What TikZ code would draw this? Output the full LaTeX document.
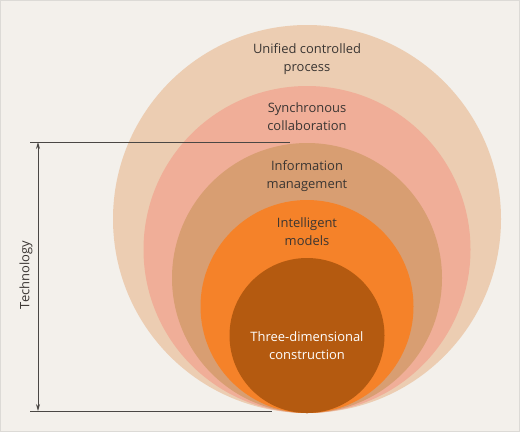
\documentclass[tikz,border=0pt]{standalone}
\usepackage{fontspec}
\setmainfont{Open Sans}
\usetikzlibrary{arrows.meta}
\newlength{\du}
\setlength{\du}{1bp}
\definecolor{bgcolor}{HTML}{F3F0EB}
\definecolor{edgecolor}{HTML}{DCDAD6}
\definecolor{unifiedcolor}{HTML}{ECCDB2}
\definecolor{synccolor}{HTML}{F0AE98}
\definecolor{infocolor}{HTML}{D89E72}
\definecolor{modelcolor}{HTML}{F58229}
\definecolor{constrcolor}{HTML}{B45A10}
\definecolor{textcolor}{HTML}{3A3532}
\definecolor{dimcolor}{HTML}{4A4744}
\tikzset{
  ring/.style={circle, inner sep=0pt, draw=none},
  ringlabel/.style={align=center, text=textcolor, font=\fontsize{13}{18}\selectfont, inner sep=0pt},
  dimline/.style={draw=dimcolor, line width=0.8\du},
  dimtip/.tip={Stealth[length=7bp,width=4bp]},
}
\begin{document}
\begin{tikzpicture}[x=1\du, y=-1\du]
\useasboundingbox (0,0) rectangle (520,432);
\fill[bgcolor] (0,0) rectangle (520,432);
\draw[edgecolor, line width=1\du] (0.5,0.5) rectangle (519.5,431.5);
% nested circles, all touching at the bottom
\node[ring, fill=unifiedcolor, minimum size=388\du] (unified) at (307,219) {};
\node[ring, fill=synccolor, minimum size=327\du] (sync) at (307,249.5) {};
\node[ring, fill=infocolor, minimum size=270\du] (info) at (307,278) {};
\node[ring, fill=modelcolor, minimum size=213\du] (models) at (307,306.5) {};
\node[ring, fill=constrcolor, minimum size=155\du] (constr) at (307,335.5) {};
% labels
\node[ringlabel] (unifiedtext) at (307,59) {Unified controlled\\process};
\node[ringlabel] (synctext) at (307,117) {Synchronous\\collaboration};
\node[ringlabel] (infotext) at (307,176) {Information\\management};
\node[ringlabel] (modelstext) at (307,232) {Intelligent\\models};
\node[ringlabel, text=white] (constrtext) at (307,346) {Three-dimensional\\construction};
% technology dimension
\coordinate (topleft) at (30,142);
\coordinate (topright) at (290,142);
\coordinate (botleft) at (30,411);
\coordinate (botright) at (272,411);
\coordinate (arrowtop) at (38,142);
\coordinate (arrowbot) at (38,411);
\draw[dimline] (topleft) -- (topright);
\draw[dimline] (botleft) -- (botright);
\draw[dimline, dimtip-dimtip] (arrowtop) -- (arrowbot);
\node[ringlabel, rotate=90] (techtext) at (26,275) {Technology};
\end{tikzpicture}
\end{document}
